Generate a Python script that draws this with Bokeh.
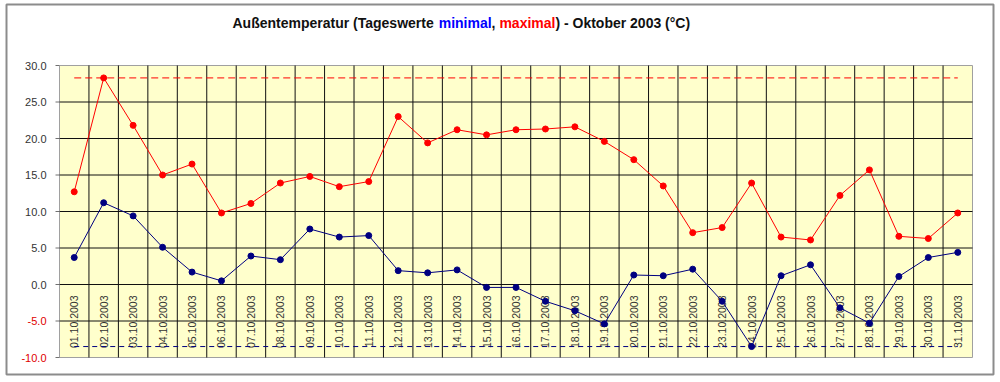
from bokeh.plotting import figure
from bokeh.models import Range1d, ColumnDataSource
from bokeh.core.properties import value
from bokeh.embed import file_html
from bokeh.resources import INLINE
import math

# ---- data ----
days = list(range(1, 32))
date_labels = [
    "01.10.2003", "02.10.2003", "03.10.2003", "04.10.2003", "05.10.2003",
    "06.10.2003", "07.10.2003", "08.10.2003", "09.10.2003", "10.10.2003",
    "11.10.2003", "12.10.2003", "13.10.2003", "14.10.2003", "15.10.2003",
    "16.10.2003", "17.10.2003", "18.10.2003", "19.10.2003", "20.10.2003",
    "21.10.2003", "22.10.2003", "23.10.2003", "24.10.2003", "25.10.2003",
    "26.10.2003", "27.10.2003", "28.10.2003", "29.10.2003", "30.10.2003",
    "31.10.2003",
]
t_max = [12.7, 28.3, 21.8, 15.0, 16.5, 9.8, 11.1, 13.9, 14.8, 13.4,
         14.1, 23.0, 19.4, 21.2, 20.5, 21.2, 21.3, 21.6, 19.6, 17.1,
         13.5, 7.1, 7.8, 13.9, 6.5, 6.1, 12.2, 15.7, 6.6, 6.3, 9.8]
t_min = [3.7, 11.2, 9.4, 5.1, 1.7, 0.5, 3.9, 3.4, 7.6, 6.5,
         6.7, 1.9, 1.6, 2.0, -0.4, -0.4, -2.3, -3.6, -5.4, 1.3,
         1.2, 2.1, -2.3, -8.5, 1.2, 2.7, -3.2, -5.3, 1.1, 3.7, 4.4]
y_ticks = [-10, -5, 0, 5, 10, 15, 20, 25, 30]
y_tick_labels = ["-10.0", "-5.0", "0.0", "5.0", "10.0", "15.0", "20.0", "25.0", "30.0"]
title_parts = ["Außentemperatur (Tageswerte ", "minimal", ", ", "maximal", ") - Oktober 2003 (°C)"]

FONT = "Liberation Sans"

# ---- layout (canvas pixels) ----
W, H = 1000, 382
PL, PR, PT, PB = 59, 972, 65, 357          # plot area edges
X0, X1 = days[0] - 0.5, days[-1] + 0.5       # category extent
Y0, Y1 = y_ticks[0], y_ticks[-1]
sx = (PR - PL) / (X1 - X0)
sy = (PB - PT) / (Y1 - Y0)
x_start, x_end = X0 - PL / sx, X0 + (W - PL) / sx
y_start, y_end = Y0 - (H - PB) / sy, Y1 + PT / sy


def px_x(px):
    return x_start + px / sx


def px_y(py):
    return y_end - py / sy


p = figure(width=W, height=H, output_backend="svg", toolbar_location=None,
           x_range=Range1d(x_start, x_end), y_range=Range1d(y_start, y_end),
           min_border=0, min_border_left=0, min_border_right=0,
           min_border_top=0, min_border_bottom=0)
p.axis.visible = False
p.grid.visible = False
p.outline_line_color = None
p.background_fill_color = "white"
p.border_fill_color = "white"

# outer chart frame
p.quad(left=[px_x(6)], right=[px_x(993)], top=[px_y(4)], bottom=[px_y(374)],
       fill_color=None, line_color="#8C8C8C", line_width=2)

# plot area
p.quad(left=[X0], right=[X1], bottom=[Y0], top=[Y1],
       fill_color="#FFFFCC", line_color="#A0A0A0", line_width=1)

# horizontal grid + y ticks
inner = [t for t in y_ticks if Y0 < t < Y1]
p.segment(x0=[X0] * len(inner), x1=[X1] * len(inner), y0=inner, y1=inner,
          line_color="#101010", line_width=1)
p.segment(x0=[X0 - 4 / sx] * len(y_ticks), x1=[X0] * len(y_ticks),
          y0=y_ticks, y1=y_ticks, line_color="#707070", line_width=1)
# vertical grid at category boundaries
vb = [d + 0.5 for d in days[:-1]]
p.segment(x0=vb, x1=vb, y0=[Y0] * len(vb), y1=[Y1] * len(vb),
          line_color="#101010", line_width=1)

# y tick labels (negative ones red)
ysrc = ColumnDataSource(dict(
    x=[X0] * len(y_ticks), y=y_ticks, t=y_tick_labels,
    c=["#E00000" if t < 0 else "#333333" for t in y_ticks]))
p.text(x="x", y="y", text="t", text_color="c", source=ysrc, x_offset=-13,
       text_align="right", text_baseline="middle",
       text_font=value(FONT), text_font_size="11px")

# date labels inside the plot
p.text(x=days, y=[0] * len(days), text=date_labels, angle=math.pi / 2,
       y_offset=11, text_align="right", text_baseline="middle",
       text_font=value(FONT), text_font_size="10.5px", text_color="#333333")

# extreme dashed lines
mx = max(t_max)
mn = min(t_min)
p.line([days[0], days[-1]], [mx, mx], line_color="#FF0000", line_width=1, line_dash="7 4")
p.line([days[0], days[-1]], [mn, mn], line_color="#000080", line_width=1, line_dash="5 4")

# series
p.line(days, t_max, line_color="#FF0000", line_width=1)
p.scatter(days, t_max, size=6, fill_color="#FF0000", line_color="#FF0000")
p.line(days, t_min, line_color="#000080", line_width=1)
p.scatter(days, t_min, size=6, fill_color="#000080", line_color="#000080")

# title (multi-coloured)
tx_px = [232, 438.2, 491.1, 498.9, 554.9]
tsrc = ColumnDataSource(dict(
    x=[px_x(v) for v in tx_px], y=[px_y(22)] * len(title_parts), t=title_parts,
    c=["#111111", "#0000FF", "#111111", "#FF0000", "#111111"]))
p.text(x="x", y="y", text="t", text_color="c", source=tsrc,
       text_align="left", text_baseline="middle", text_font=value(FONT),
       text_font_style="bold", text_font_size="14px")

open("out.html", "w").write(file_html(p, INLINE))
